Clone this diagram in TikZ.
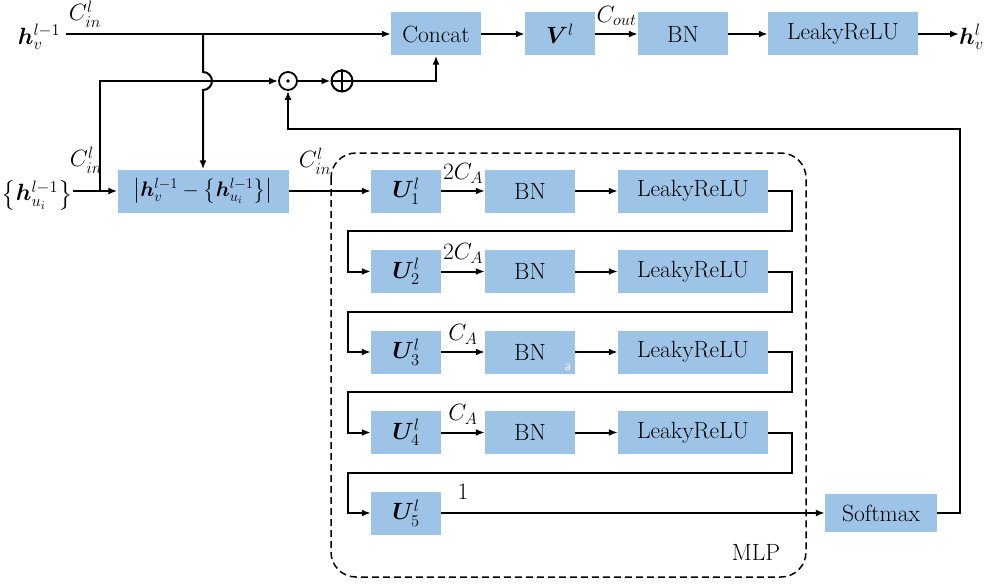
\RequirePackage{fix-cm}
\documentclass[tikz,border=0pt]{standalone}
\usepackage{amsmath,bm}
\usepackage{fontspec}
\usetikzlibrary{arrows.meta}
\definecolor{boxblue}{HTML}{9DC3E6}
\begin{document}
\begin{tikzpicture}[x=1pt,y=-1pt,
  every node/.style={font=\fontsize{23.5}{27}\selectfont},
  blk/.style={fill=boxblue, inner sep=0pt, minimum height=43pt},
  wire/.style={line width=2pt},
  conn/.style={line width=2pt, -{Latex[length=9pt,width=7pt]}},
  lbl/.style={inner sep=0pt},
  tag/.style={midway, above, inner sep=7pt},
  oper/.style={draw, circle, line width=1.8pt, inner sep=0pt}]
\useasboundingbox (0,0) rectangle (989,586);

% ---- top path: concat, projection, BN, activation
\node[blk, minimum width=90pt]  (concat) at (436,34) {Concat};
\node[blk, minimum width=70pt]  (V)      at (560,34) {$\bm{V}^l$};
\node[blk, minimum width=90pt]  (bn0)    at (683,34) {BN};
\node[blk, minimum width=150pt] (lr0)    at (843,34) {LeakyReLU};
\node[lbl] (hv)   at (39,37)  {$\bm{h}_v^{l-1}$};
\node[lbl, anchor=west] (hout) at (959,37) {$\bm{h}_v^l$};
\node[lbl] (cin1) at (85,14)  {$C_{in}^l$};
\coordinate (s0) at (66,34);
\coordinate (br) at (203,34);
\draw[conn] (s0) -- (concat.west);
\draw[conn] (concat) -- (V);
\draw[conn] (V) -- (bn0) node[tag] {$C_{out}$};
\draw[conn] (bn0) -- (lr0);
\draw[conn] (lr0.east) -- (hout.west |- lr0.east);

% ---- neighbour difference
\node[lbl] (hu) at (37,195) {$\left\{\bm{h}_{u_i}^{l-1}\right\}$};
\node[lbl] (cin2) at (86,160) {$C_{in}^l$};
\node[blk, minimum width=171pt, font=\fontsize{21}{25}\selectfont] (diff) at (203,191)
  {$\left|\bm{h}_v^{l-1}-\left\{\bm{h}_{u_i}^{l-1}\right\}\right|$};
\coordinate (s1) at (73,191);
\coordinate (j1) at (100,191);
\draw[conn] (s1) -- (diff.west);
\draw[conn] (br) -- (203,72) arc[start angle=-90, end angle=90, radius=9] -- (diff.north);

% ---- attention weighting and residual sum
\node[oper, minimum size=18pt] (dot)  at (288,81) {};
\fill (dot.center) circle (1.8pt);
\node[oper, minimum size=21pt, line width=2pt] (plus) at (342,81) {};
\draw[wire] (plus.north) -- (plus.south) (plus.west) -- (plus.east);
\draw[conn] (j1) -- (100,81) -- (dot.west);
\draw[conn] (dot) -- (plus);
\draw[conn] (plus.east) -| (concat.south);

% ---- MLP
\draw[dashed, line width=1.5pt, dash pattern=on 7pt off 4pt, rounded corners=25pt]
  (331,153) rectangle (806,577);
\node (mlp) at (756,552) {MLP};
\foreach \k/\y/\c in {1/191/2C_A, 2/271.5/2C_A, 3/352/C_A, 4/432.5/C_A} {
  \node[blk, minimum width=70pt]  (U\k) at (406,\y) {$\bm{U}_{\k}^l$};
  \node[blk, minimum width=90pt]  (B\k) at (530,\y) {BN};
  \node[blk, minimum width=150pt] (L\k) at (693,\y) {LeakyReLU};
  \draw[conn] (U\k) -- (B\k) node[tag] {$\c$};
  \draw[conn] (B\k) -- (L\k);
}
\node[text=white, font=\sffamily\fontsize{14}{14}\selectfont] (mark) at (568,367) {a};
\node[blk, minimum width=70pt] (U5) at (406,513) {$\bm{U}_5^l$};
\node[blk, minimum width=112pt, minimum height=38pt] (soft) at (881,513) {Softmax};
\node[lbl] (cin3) at (315,161) {$C_{in}^l$};
\draw[conn] (diff) -- (U1);
\foreach \k/\n/\m in {1/2/231, 2/3/312, 3/4/392, 4/5/473}
  \draw[conn] (L\k.east) -| (792,\m) -- (348,\m) |- (U\n.west);
\draw[conn] (U5) -- (soft);
\node (one) at (463,492) {1};

% ---- attention feedback
\draw[conn] (soft.east) -- (960,513) -- (960,129) -| (dot.south);
\end{tikzpicture}
\end{document}
